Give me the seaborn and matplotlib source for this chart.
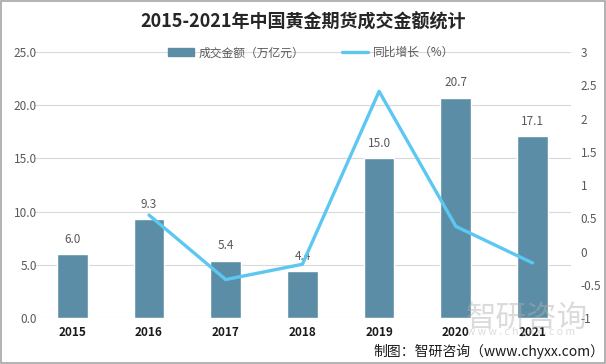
import numpy as np
import matplotlib.pyplot as plt
import pandas as pd
import seaborn as sns
from matplotlib.lines import Line2D
from matplotlib.patches import Patch, Rectangle

# data
years = ['2015', '2016', '2017', '2018', '2019', '2020', '2021']
amount = [6.0, 9.3, 5.4, 4.4, 15.0, 20.7, 17.1]
growth_years = ['2016', '2017', '2018', '2019', '2020', '2021']
growth = [0.55, -0.42, -0.19, 2.41, 0.38, -0.17]

bar_color = '#5b8ea6'
line_color = '#5cc8f2'

sns.set_style('white')
plt.rcParams['font.family'] = ['Noto Sans CJK SC', 'DejaVu Sans']
plt.rcParams['axes.unicode_minus'] = False

df = pd.DataFrame({'year': years, 'amount': amount})
df_line = pd.DataFrame({'pos': [years.index(y) for y in growth_years], 'growth': growth})

fig = plt.figure(figsize=(6.06, 3.64), dpi=100)
ax = fig.add_axes([0.056, 0.126, 0.886, 0.731])

sns.barplot(data=df, x='year', y='amount', color=bar_color, width=0.4,
            saturation=1, ax=ax, zorder=2)
ax.set_ylim(0, 25)
ax.set_yticks(np.arange(0, 25.1, 5))
ax.set_yticklabels([f'{v:.1f}' for v in np.arange(0, 25.1, 5)])
ax.yaxis.grid(True, color='#d9d9d9', lw=0.8, zorder=0)
ax.set_axisbelow(True)
ax.set_xlim(-0.5, len(years) - 0.5)
ax.set_xlabel('')
ax.set_ylabel('')
for s in ax.spines.values():
    s.set_visible(False)
ax.tick_params(axis='y', length=0, labelsize=8.5, labelcolor='#595959', pad=-2)
ax.tick_params(axis='x', length=0, labelsize=8.5, pad=6)
for lab in ax.get_xticklabels():
    lab.set_fontweight('bold')
    lab.set_color('#1a1a1a')

for i, v in enumerate(amount):
    ax.text(i, v + 0.8, f'{v:.1f}', ha='center', va='bottom', fontsize=8.5, color='#595959')

ax2 = ax.twinx()
sns.lineplot(data=df_line, x='pos', y='growth', color=line_color, lw=2.4, ax=ax2, zorder=3)
ax2.set_ylim(-1, 3)
ax2.set_yticks(np.arange(-1, 3.01, 0.5))
ax2.set_yticklabels(['-1', '-0.5', '0', '0.5', '1', '1.5', '2', '2.5', '3'])
ax2.set_xlim(-0.5, len(years) - 0.5)
ax2.set_ylabel('')
ax2.set_xlabel('')
for s in ax2.spines.values():
    s.set_visible(False)
ax2.tick_params(axis='y', length=0, labelsize=8.5, labelcolor='#595959', pad=7)

fig.text(0.5, 0.94, '2015-2021年中国黄金期货成交金额统计', ha='center', va='center',
         fontsize=13, fontweight='bold', color='#262626')

handles = [Patch(color=bar_color), Line2D([0], [0], color=line_color, lw=2.4)]
fig.legend(handles, ['成交金额（万亿元）', '同比增长（%）'], loc='center',
           bbox_to_anchor=(0.513, 0.855), ncol=2, frameon=False, fontsize=8.5,
           labelcolor='#595959', handlelength=2.2, handleheight=0.6,
           columnspacing=3.2, handletextpad=0.4)

# watermark
fig.text(0.87, 0.126, '智研咨询', ha='center', va='center', fontsize=22,
         color='#b0b0b0', alpha=0.45)
fig.text(0.86, 0.088, 'w w w . c h y x x . c o m', ha='center', va='center',
         fontsize=7.5, color='#b0b0b0', alpha=0.45)

fig.text(0.997, 0.035, '制图：智研咨询（www.chyxx.com）', ha='right', va='center',
         fontsize=10, color='#1a1a1a')

fig.patches.append(Rectangle((0.001, 0.002), 0.997, 0.996, transform=fig.transFigure,
                             fill=False, edgecolor='#a6a6a6', lw=1.2))

plt.savefig('out.png', dpi=100)
